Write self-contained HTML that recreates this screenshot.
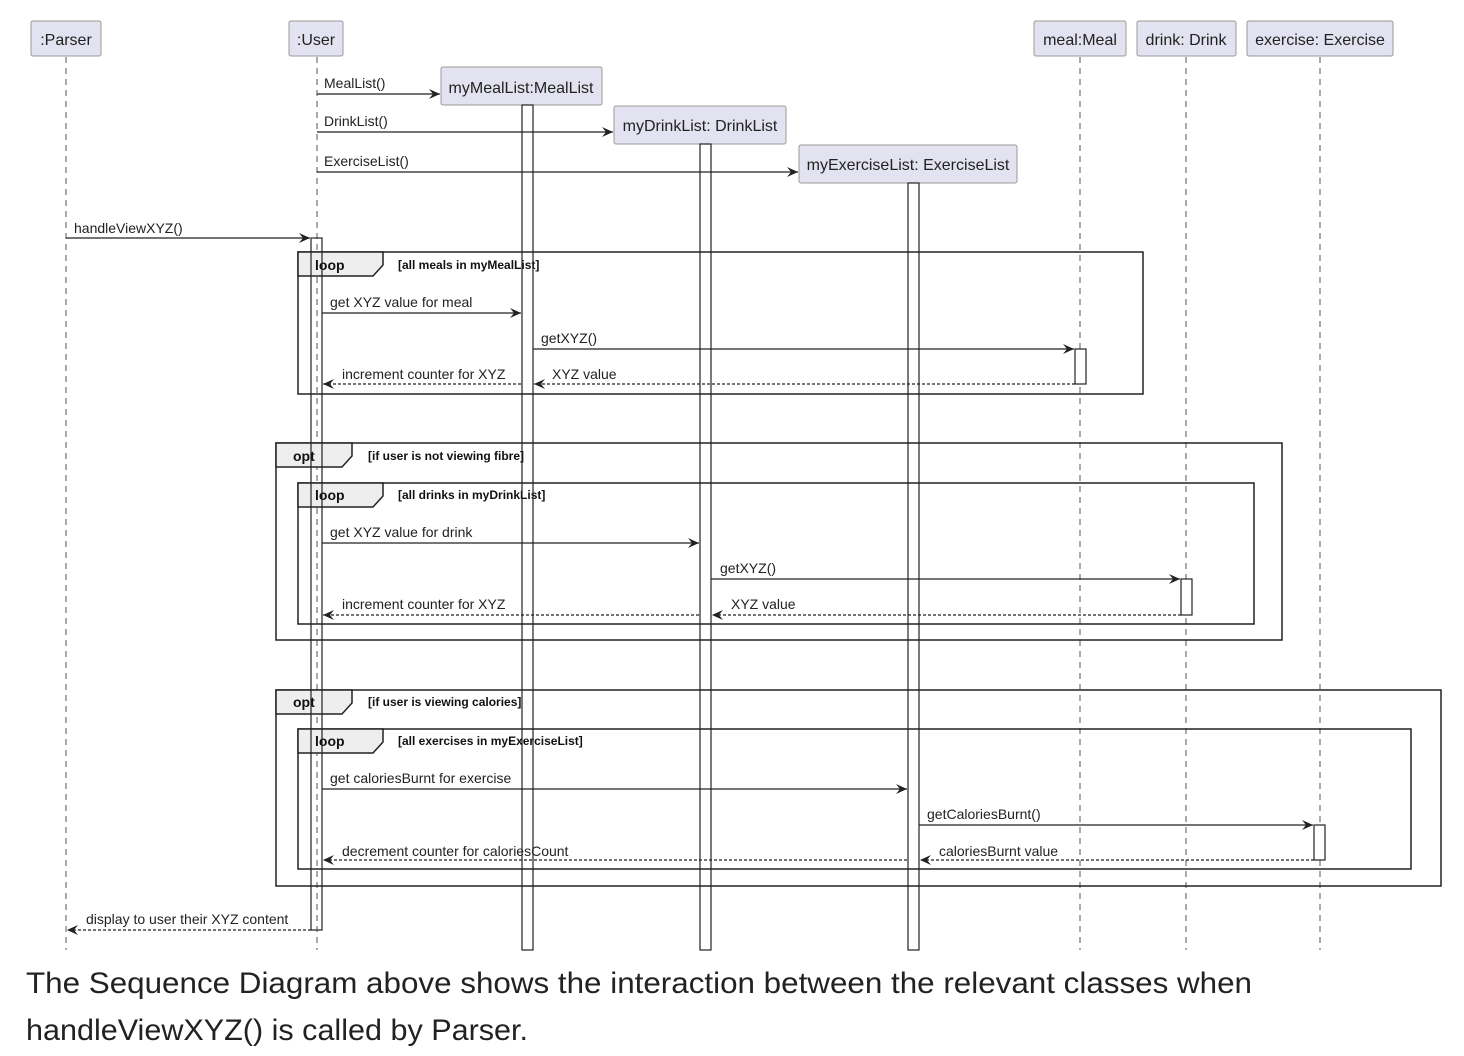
<!DOCTYPE html>
<html><head><meta charset="utf-8"><style>
html,body{margin:0;padding:0;background:#fff;}
svg{display:block;}
text{font-family:"Liberation Sans",sans-serif;}
</style></head><body>
<svg width="1464" height="1056" viewBox="0 0 1464 1056" xmlns="http://www.w3.org/2000/svg">
<defs>
<marker id="a" markerWidth="12" markerHeight="10" refX="11" refY="5" orient="auto" markerUnits="userSpaceOnUse">
<path d="M0,0 L11,5 L0,10 L4,5 Z" fill="#222"/></marker>
</defs>
<g stroke="#555" stroke-width="1" stroke-dasharray="6,5" fill="none">
<line x1="66" y1="57" x2="66" y2="950"/>
<line x1="317" y1="57" x2="317" y2="950"/>
<line x1="1080" y1="57" x2="1080" y2="950"/>
<line x1="1186" y1="57" x2="1186" y2="950"/>
<line x1="1320" y1="57" x2="1320" y2="950"/>
</g>
<g fill="#e2e2f0" stroke="#999" stroke-width="1">
<rect x="31" y="21" width="70" height="35" rx="2"/>
<rect x="289" y="21" width="54" height="35" rx="2"/>
<rect x="441" y="67" width="161" height="38" rx="2"/>
<rect x="614" y="106" width="172" height="38" rx="2"/>
<rect x="799" y="145" width="218" height="38" rx="2"/>
<rect x="1034" y="21" width="92" height="35" rx="2"/>
<rect x="1137" y="21" width="99" height="35" rx="2"/>
<rect x="1247" y="21" width="146" height="35" rx="2"/>
</g>
<g font-size="16" fill="#222" text-anchor="middle">
<text x="66" y="45">:Parser</text>
<text x="316" y="45">:User</text>
<text x="521" y="93">myMealList:MealList</text>
<text x="700" y="131">myDrinkList: DrinkList</text>
<text x="908" y="170">myExerciseList: ExerciseList</text>
<text x="1080" y="45">meal:Meal</text>
<text x="1186" y="45">drink: Drink</text>
<text x="1320" y="45">exercise: Exercise</text>
</g>
<!-- frames -->
<g fill="none" stroke="#222" stroke-width="1.5">
<rect x="298" y="252" width="845" height="142"/>
<rect x="276" y="443" width="1006" height="197"/>
<rect x="298" y="483" width="956" height="141"/>
<rect x="276" y="690" width="1165" height="196"/>
<rect x="298" y="729" width="1113" height="140"/>
</g>
<g fill="#eee" stroke="#222" stroke-width="1.5">
<path d="M298,252 H383 V265 L373,276 H298 Z"/>
<path d="M276,443 H352 V456 L342,467 H276 Z"/>
<path d="M298,483 H383 V496 L373,507 H298 Z"/>
<path d="M276,690 H352 V703 L342,714 H276 Z"/>
<path d="M298,729 H383 V742 L373,753 H298 Z"/>
</g>
<g font-size="13" font-weight="bold" fill="#111">
<text x="315" y="270" font-size="14">loop</text>
<text x="398" y="269" font-size="12">[all meals in myMealList]</text>
<text x="293" y="461" font-size="14">opt</text>
<text x="368" y="460" font-size="12">[if user is not viewing fibre]</text>
<text x="315" y="500" font-size="14">loop</text>
<text x="398" y="499" font-size="12">[all drinks in myDrinkList]</text>
<text x="293" y="707" font-size="14">opt</text>
<text x="368" y="706" font-size="12">[if user is viewing calories]</text>
<text x="315" y="746" font-size="14">loop</text>
<text x="398" y="745" font-size="12">[all exercises in myExerciseList]</text>
</g>
<!-- activation bars -->
<g fill="none" stroke="#222" stroke-width="1.2">
<rect x="311" y="238" width="11" height="692"/>
<rect x="522" y="105" width="11" height="845"/>
<rect x="700" y="144" width="11" height="806"/>
<rect x="908" y="183" width="11" height="767"/>
<rect x="1075" y="349" width="11" height="35" fill="#fff"/>
<rect x="1181" y="579" width="11" height="36" fill="#fff"/>
<rect x="1314" y="825" width="11" height="35" fill="#fff"/>
</g>
<!-- messages -->
<g stroke="#222" stroke-width="1.2" fill="none" marker-end="url(#a)">
<line x1="317" y1="94" x2="440" y2="94"/>
<line x1="317" y1="132" x2="613" y2="132"/>
<line x1="317" y1="172" x2="798" y2="172"/>
<line x1="66" y1="238" x2="310" y2="238"/>
<line x1="322" y1="313" x2="521" y2="313"/>
<line x1="533" y1="349" x2="1074" y2="349"/>
<line x1="322" y1="543" x2="699" y2="543"/>
<line x1="711" y1="579" x2="1180" y2="579"/>
<line x1="322" y1="789" x2="907" y2="789"/>
<line x1="919" y1="825" x2="1313" y2="825"/>
</g>
<g stroke="#222" stroke-width="1.2" fill="none" stroke-dasharray="3,2" marker-end="url(#a)">
<line x1="1075" y1="384" x2="534" y2="384"/>
<line x1="521" y1="384" x2="323" y2="384"/>
<line x1="1181" y1="615" x2="712" y2="615"/>
<line x1="699" y1="615" x2="323" y2="615"/>
<line x1="1314" y1="860" x2="920" y2="860"/>
<line x1="907" y1="860" x2="323" y2="860"/>
<line x1="311" y1="930" x2="67" y2="930"/>
</g>
<g font-size="14" fill="#222">
<text x="324" y="88">MealList()</text>
<text x="324" y="126">DrinkList()</text>
<text x="324" y="166">ExerciseList()</text>
<text x="74" y="233">handleViewXYZ()</text>
<text x="330" y="307">get XYZ value for meal</text>
<text x="541" y="343">getXYZ()</text>
<text x="342" y="379">increment counter for XYZ</text>
<text x="552" y="379">XYZ value</text>
<text x="330" y="537">get XYZ value for drink</text>
<text x="720" y="573">getXYZ()</text>
<text x="342" y="609">increment counter for XYZ</text>
<text x="731" y="609">XYZ value</text>
<text x="330" y="783">get caloriesBurnt for exercise</text>
<text x="927" y="819">getCaloriesBurnt()</text>
<text x="342" y="856">decrement counter for caloriesCount</text>
<text x="939" y="856">caloriesBurnt value</text>
<text x="86" y="924">display to user their XYZ content</text>
</g>
<g font-size="30" fill="#222">
<text x="26" y="993" textLength="1226" lengthAdjust="spacingAndGlyphs">The Sequence Diagram above shows the interaction between the relevant classes when</text>
<text x="26" y="1040" textLength="502" lengthAdjust="spacingAndGlyphs">handleViewXYZ() is called by Parser.</text>
</g>
</svg>
</body></html>
